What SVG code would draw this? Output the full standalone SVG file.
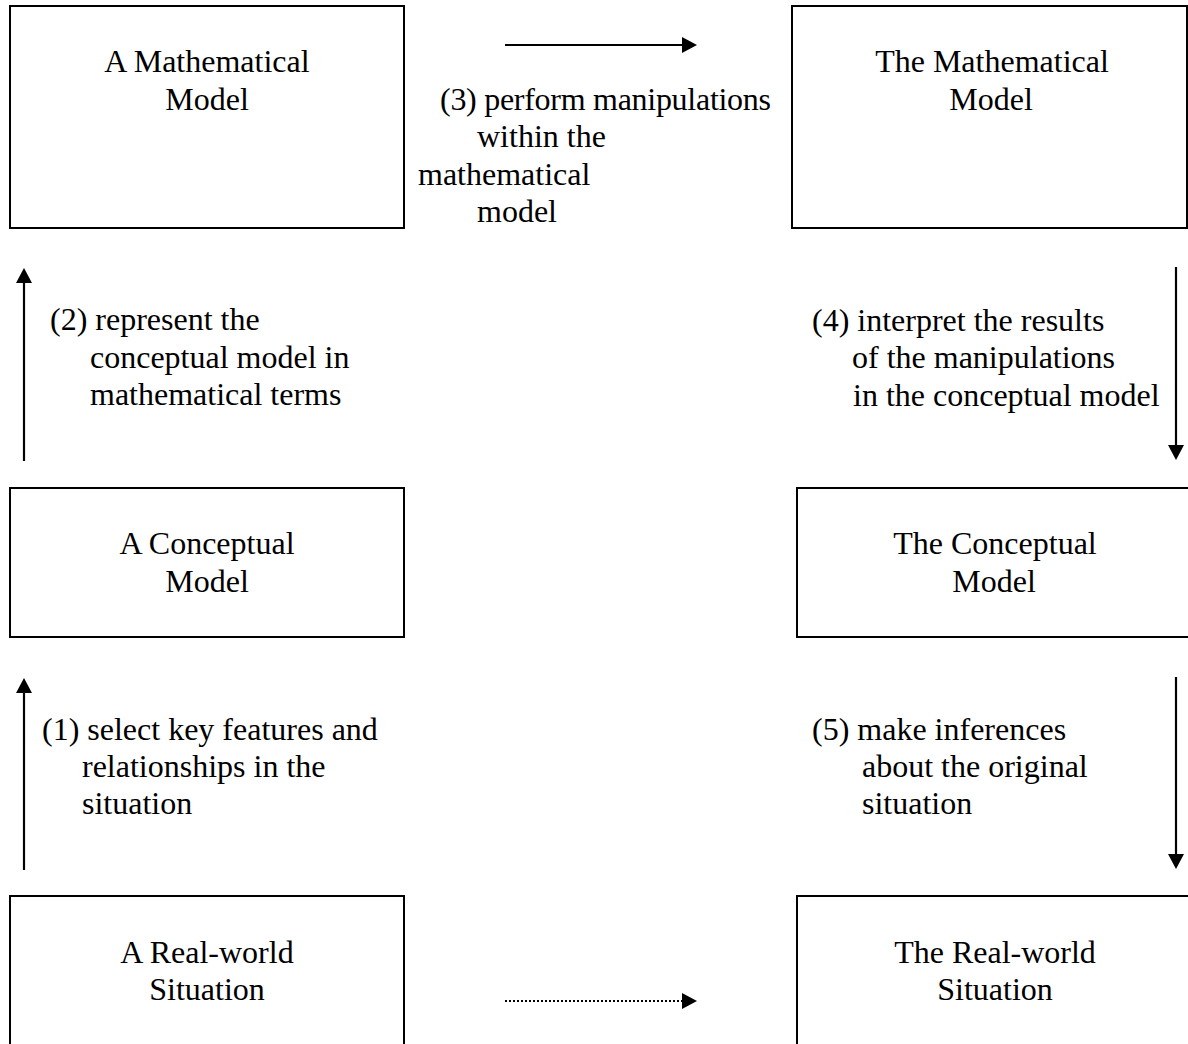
<svg xmlns="http://www.w3.org/2000/svg" width="1188" height="1044" viewBox="0 0 1188 1044">
<style>
.box{fill:#fff;stroke:#000;stroke-width:2}
.t{font-family:"Liberation Serif","Times New Roman",serif;font-size:32px;fill:#000}
.c{text-anchor:middle}
.ln{stroke:#000;stroke-width:2.2;fill:none}
.dot{stroke:#000;stroke-width:2;fill:none;stroke-dasharray:2 2}
</style>
<defs>
<marker id="ah" markerUnits="userSpaceOnUse" markerWidth="15" markerHeight="16" refX="0" refY="8" orient="auto" viewBox="0 0 15 16">
<path d="M0,0 L15,8 L0,16 Z" fill="#000"/>
</marker>
</defs>
<rect width="1188" height="1044" fill="#fff"/>
<g id="connectors">
<line class="ln" x1="505" y1="45" x2="682" y2="45" marker-end="url(#ah)"/>
<line class="dot" x1="505" y1="1001" x2="682" y2="1001" marker-end="url(#ah)"/>
<line class="ln" x1="24" y1="461" x2="24" y2="283" marker-end="url(#ah)"/>
<line class="ln" x1="24" y1="870" x2="24" y2="693" marker-end="url(#ah)"/>
<line class="ln" x1="1176" y1="267" x2="1176" y2="445" marker-end="url(#ah)"/>
<line class="ln" x1="1176" y1="677" x2="1176" y2="854" marker-end="url(#ah)"/>
</g>
<g id="label3" class="t">
<text x="440" y="110" textLength="331">(3) perform manipulations</text>
<text x="477" y="147">within the</text>
<text x="418" y="185">mathematical</text>
<text x="477" y="222">model</text>
</g>
<g id="label2" class="t">
<text x="50" y="330">(2) represent the</text>
<text x="90" y="368">conceptual model in</text>
<text x="90" y="405">mathematical terms</text>
</g>
<g id="label4" class="t">
<text x="812" y="331">(4) interpret the results</text>
<text x="852" y="368">of the manipulations</text>
<text x="853" y="406">in the conceptual model</text>
</g>
<g id="label1" class="t">
<text x="42" y="740">(1) select key features and</text>
<text x="82" y="777">relationships in the</text>
<text x="82" y="814">situation</text>
</g>
<g id="label5" class="t">
<text x="812" y="740">(5) make inferences</text>
<text x="862" y="777">about the original</text>
<text x="862" y="814">situation</text>
</g>
<g id="a-math">
<rect class="box" x="10" y="6" width="394" height="222"/>
<text class="t c" x="207" y="72">A Mathematical</text>
<text class="t c" x="207" y="110">Model</text>
</g>
<g id="the-math">
<rect class="box" x="792" y="6" width="395" height="222"/>
<text class="t c" x="992" y="72">The Mathematical</text>
<text class="t c" x="991" y="110">Model</text>
</g>
<g id="a-concept">
<rect class="box" x="10" y="488" width="394" height="149"/>
<text class="t c" x="207" y="554">A Conceptual</text>
<text class="t c" x="207" y="592">Model</text>
</g>
<g id="the-concept">
<rect class="box" x="797" y="488" width="395" height="149"/>
<text class="t c" x="995" y="554">The Conceptual</text>
<text class="t c" x="994" y="592">Model</text>
</g>
<g id="a-real">
<rect class="box" x="10" y="896" width="394" height="160"/>
<text class="t c" x="207" y="963">A Real-world</text>
<text class="t c" x="207" y="1000">Situation</text>
</g>
<g id="the-real">
<rect class="box" x="797" y="896" width="395" height="160"/>
<text class="t c" x="995" y="963">The Real-world</text>
<text class="t c" x="995" y="1000">Situation</text>
</g>
</svg>
